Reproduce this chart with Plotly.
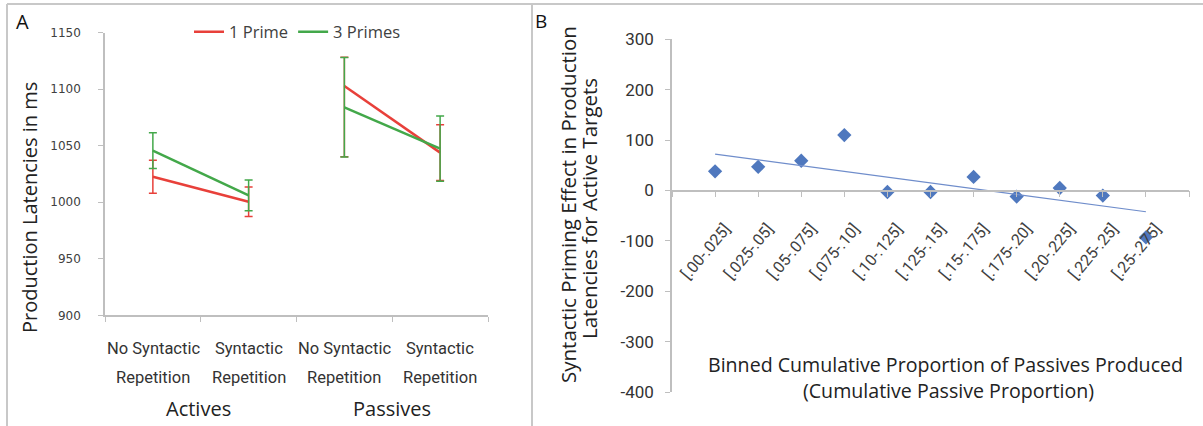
import numpy as np
import plotly.graph_objects as go

W, H = 1203, 426

# ---------------- Panel A data ----------------
cat_line1 = ["No Syntactic", "Syntactic", "No Syntactic", "Syntactic"]
cat_line2 = ["Repetition", "Repetition", "Repetition", "Repetition"]
groups = ["Actives", "Passives"]
series_names = ["1 Prime", "3 Primes"]

one_prime = [1022.6, 1000.5, 1102.8, 1043.9]
one_prime_err_plus = [14.6, 13.0, 25.4, 24.7]
one_prime_err_minus = [14.6, 13.0, 62.5, 24.7]
three_primes = [1045.6, 1006.1, 1084.0, 1047.4]
three_primes_err = [15.8, 13.7, 44.0, 28.8]

y_ticks_a = [900, 950, 1000, 1050, 1100, 1150]

# ---------------- Panel B data ----------------
bins = ["[.00-.025]", "[.025-.05]", "[.05-.075]", "[.075-.10]", "[.10-.125]",
        "[.125-.15]", "[.15-.175]", "[.175-.20]", "[.20-.225]", "[.225-.25]",
        "[.25-.275]"]
priming_effect = [38, 47, 59, 110, -3, -3, 27, -12, 5, -10, -93]
y_ticks_b = [300, 200, 100, 0, -100, -200, -300, -400]
y_ticktext_b = ["300", "200", "100", "0", "-100", "-200", "-300", "-400"]

RED = "#E8403A"
GREEN = "#43A84A"
BLUE = "#4F78BE"
AXIS = "#BFBFBF"
TXT = "#404040"
NARROW = "Roboto, sans-serif"
OPEN = "Open Sans, sans-serif"


def split_groups(vals):
    out = []
    for i, v in enumerate(vals):
        if i > 0 and i % 2 == 0:
            out.append(None)
        out.append(v)
    return out


xpos_a = split_groups([i + 0.5 for i in range(len(cat_line1))])

fig = go.Figure()

fig.add_trace(go.Scatter(
    x=xpos_a, y=split_groups(one_prime), mode="lines", name=series_names[0],
    line=dict(color=RED, width=2.5), connectgaps=False,
    error_y=dict(type="data", symmetric=False, array=split_groups(one_prime_err_plus),
                 arrayminus=split_groups(one_prime_err_minus),
                 color=RED, thickness=1.5, width=4),
    xaxis="x", yaxis="y"))
fig.add_trace(go.Scatter(
    x=xpos_a, y=split_groups(three_primes), mode="lines", name=series_names[1],
    line=dict(color=GREEN, width=2.5), connectgaps=False,
    error_y=dict(type="data", array=split_groups(three_primes_err),
                 color=GREEN, thickness=1.5, width=4),
    xaxis="x", yaxis="y"))

# Panel B
xb = np.arange(1, len(bins) + 1)
fig.add_trace(go.Scatter(
    x=xb, y=priming_effect, mode="markers", showlegend=False,
    marker=dict(symbol="diamond", size=11, color=BLUE),
    xaxis="x2", yaxis="y2"))
slope, intercept = np.polyfit(xb, priming_effect, 1)
tx = np.array([xb[0], xb[-1]])
fig.add_trace(go.Scatter(
    x=tx, y=slope * tx + intercept, mode="lines", showlegend=False,
    line=dict(color="#6F8DCB", width=1.2),
    xaxis="x2", yaxis="y2"))

fig.update_layout(
    width=W, height=H, autosize=False,
    margin=dict(l=0, r=0, t=0, b=0, autoexpand=False),
    paper_bgcolor="white", plot_bgcolor="white",
    font=dict(family=OPEN, color=TXT),
    showlegend=True,
    legend=dict(orientation="h", x=189 / W, xanchor="left", y=1 - 32 / H, yanchor="middle",
                font=dict(family=OPEN, size=16.5, color=TXT), bgcolor="rgba(0,0,0,0)",
                itemwidth=30, tracegroupgap=0),
    xaxis=dict(domain=[105 / W, 488 / W], range=[0, 4], tickvals=[0, 1, 2, 3, 4],
               showticklabels=False, ticks="outside", ticklen=5, tickcolor=AXIS,
               showline=True, linecolor=AXIS, linewidth=1.5, showgrid=False,
               zeroline=False, anchor="y", fixedrange=True),
    yaxis=dict(domain=[1 - 315.3 / H, 1 - 32.7 / H], range=[900, 1150], tickvals=y_ticks_a,
               ticks="outside", ticklen=5, tickcolor=AXIS, showline=True, linecolor=AXIS,
               linewidth=1.5, showgrid=False, zeroline=False, anchor="x",
               tickfont=dict(family="DejaVu Sans", size=12, color=TXT),
               ticklabelstandoff=15),
    xaxis2=dict(domain=[672 / W, 1189 / W], range=[0, 12], tickvals=list(xb), ticktext=bins,
                tickangle=-50, ticks="outside", ticklen=6, tickcolor=AXIS,
                minor=dict(dtick=1, tick0=0, ticks="outside", ticklen=6, tickcolor=AXIS),
                showline=True, linecolor=AXIS, linewidth=1.5, showgrid=False,
                zeroline=False, anchor="free", position=1 - 190.5 / H,
                ticklabelstandoff=16, ticklabelshift=10,
                tickfont=dict(family=NARROW, size=16, color=TXT)),
    yaxis2=dict(domain=[1 - 392.1 / H, 1 - 39.3 / H], range=[-400, 300], tickvals=y_ticks_b,
                ticktext=y_ticktext_b, ticks="outside", ticklen=5, tickcolor=AXIS,
                showline=True, linecolor=AXIS, linewidth=1.5, showgrid=False,
                zeroline=False, anchor="x2",
                tickfont=dict(family=NARROW, size=17, color="#333333"),
                ticklabelstandoff=8),
)

ann = []


def add_text(text, x, y, size, family=OPEN, color=TXT, angle=0, xanchor="center"):
    ann.append(dict(text=text, x=x / W, y=1 - y / H, xref="paper", yref="paper",
                    showarrow=False, textangle=angle, xanchor=xanchor, yanchor="middle",
                    font=dict(family=family, size=size, color=color)))


add_text("A", 22, 22, 20, color="#111111")
add_text("B", 541, 21, 19, color="#111111")
add_text("Production Latencies in ms", 30, 208, 20, angle=-90, color="#222222")
cat_px = [153, 249, 344, 440]
for i in range(len(cat_line1)):
    add_text(cat_line1[i], cat_px[i], 348, 16.5, family=NARROW, color="#333333")
    add_text(cat_line2[i], cat_px[i], 377, 16.5, family=NARROW, color="#333333")
group_px = [198, 392]
for g, gx in zip(groups, group_px):
    add_text(g, gx, 408, 20, color="#222222")
add_text("Syntactic Priming Effect in Production", 568, 205, 20.5, angle=-90, color="#222222")
add_text("Latencies for Active Targets", 589, 209, 20.5, angle=-90, color="#222222")
add_text("Binned Cumulative Proportion of Passives Produced", 945, 364, 19.6, color="#222222")
add_text("(Cumulative Passive Proportion)", 948, 390, 19.6, color="#222222")
fig.update_layout(annotations=ann)

# panel frames
BORDER = "#C8C8C8"
shapes = [
    dict(type="line", xref="paper", yref="paper", x0=7 / W, x1=1, y0=1 - 4 / H, y1=1 - 4 / H,
         line=dict(color=BORDER, width=2)),
    dict(type="line", xref="paper", yref="paper", x0=7 / W, x1=7 / W, y0=0, y1=1 - 4 / H,
         line=dict(color=BORDER, width=2)),
    dict(type="line", xref="paper", yref="paper", x0=532 / W, x1=532 / W, y0=0, y1=1 - 4 / H,
         line=dict(color=BORDER, width=2)),
]
fig.update_layout(shapes=shapes)

fig.write_html(
    "out.html",
    config={"displayModeBar": False},
    post_script="document.body.style.margin='0';",
)
